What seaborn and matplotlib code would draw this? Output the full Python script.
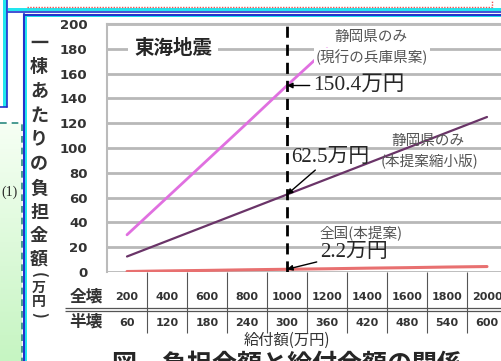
# 給付額と一棟あたり負担金額の関係（東海地震）
import numpy as np
import pandas as pd
import matplotlib
matplotlib.use('Agg')
import matplotlib.pyplot as plt
import seaborn as sns

sns.set_style("white")
plt.rcParams['font.family'] = ['Noto Sans CJK JP', 'DejaVu Sans']

# ---- data ----
full_amounts = [200, 400, 600, 800, 1000, 1200, 1400, 1600, 1800, 2000]   # 全壊 給付額(万円)
half_amounts = [60, 120, 180, 240, 300, 360, 420, 480, 540, 600]          # 半壊 給付額(万円)
hyogo_x = [200, 400, 600, 800, 1000, 1200]
hyogo_vals = [30, 60, 90, 120, 150.4, 180]            # 静岡県のみ(現行の兵庫県案)
shizuoka_vals = [12.5, 25, 37.5, 50, 62.5, 75, 87.5, 100, 112.5, 125]   # 静岡県のみ(本提案縮小版)
national_vals = [0.4, 0.9, 1.3, 1.8, 2.2, 2.6, 3.1, 3.5, 4.0, 4.4]      # 全国(本提案)
y_ticks = [0, 20, 40, 60, 80, 100, 120, 140, 160, 180, 200]
marked_x = 1000

W, H = 501, 361
fig = plt.figure(figsize=(W / 100, H / 100), dpi=100)

# background / page decoration in pixel coords
bg = fig.add_axes([0, 0, 1, 1])
bg.set_xlim(0, W)
bg.set_ylim(H, 0)
bg.axis('off')

# green gradient box with dashed border
grad = np.linspace(0, 1, 100).reshape(-1, 1)
green = matplotlib.colors.LinearSegmentedColormap.from_list('g', ['#f6fff4', '#c6f5c2'])
bg.imshow(grad, cmap=green, extent=(0, 22, 361, 123), aspect='auto', zorder=0)
bg.plot([0, 22, 22], [123, 123, 361], ls=(0, (4, 3)), color='#2a8a80', lw=1.2)
bg.text(10, 192, '(1)', fontsize=10, family=['Liberation Serif'], ha='center', va='center')

# left upper frame
bg.fill_between([3, 7], 0, 107, color='#22e6ee', lw=0)
bg.plot([7.5, 7.5], [0, 107], color='#2233cc', lw=1.2)
bg.plot([0, 7.5], [107, 107], color='#2233cc', lw=1.2)
# top frame
bg.fill_between([8, W], 8, 11, color='#22e6ee', lw=0)
bg.plot([8, W], [11.5, 11.5], color='#2233cc', lw=1.2)
# red dotted box (cut off)
bg.plot([27, 492, 492], [7, 7, 0], ls=(0, (1, 1)), color='#ee5555', lw=1)
# chart frame
bg.plot([24, 24], [14, H], color='#2233cc', lw=1.5)
bg.fill_between([25, 27], 15, H, color='#22e6ee', lw=0)
bg.plot([24, W], [14.5, 14.5], color='#2233cc', lw=1.5)
bg.fill_between([25, W], 15.5, 17, color='#22e6ee', lw=0)

# ---- main chart ----
px_left, px_right, px_top, px_zero = 107, 501, 24, 272
ax = fig.add_axes([px_left / W, (H - px_zero) / H, (px_right - px_left) / W, (px_zero - px_top) / H])
ax.set_xlim(100, 2070)
ax.set_ylim(0, 200)
ax.set_yticks(y_ticks)
ax.set_yticklabels([str(v) for v in y_ticks], fontsize=9.5, fontweight='bold',
                   color='#333333', family='DejaVu Sans')
ax.tick_params(axis='y', length=0, pad=14)
ax.set_xticks([])
ax.yaxis.grid(True, color='#b8b8b8', lw=2)
for s in ['right', 'bottom']:
    ax.spines[s].set_visible(False)
for s in ['left', 'top']:
    ax.spines[s].set_color('#bbbbbb')
    ax.spines[s].set_linewidth(1.5)
ax.patch.set_alpha(0)

df_h = pd.DataFrame({'x': hyogo_x, 'y': hyogo_vals})
df_s = pd.DataFrame({'x': full_amounts, 'y': shizuoka_vals})
df_n = pd.DataFrame({'x': full_amounts, 'y': national_vals})
sns.lineplot(data=df_h, x='x', y='y', ax=ax, color='#e070e0', lw=2, zorder=3)
sns.lineplot(data=df_s, x='x', y='y', ax=ax, color='#6a3468', lw=1.6, zorder=3)
sns.lineplot(data=df_n, x='x', y='y', ax=ax, color='#e87070', lw=2.2, zorder=3)
ax.set_xlabel('')
ax.set_ylabel('')
ax.vlines(marked_x, 0, 200, color='black', ls=(0, (4, 2.5)), lw=2, zorder=4)

lbl = dict(facecolor='white', edgecolor='none', pad=1)
ax.text(430, 180, '東海地震', fontsize=14, fontweight='bold', ha='center', va='center',
        bbox=dict(facecolor='white', edgecolor='none', pad=4), zorder=5)
ax.text(1420, 189.5, '静岡県のみ', fontsize=10.5, color='#555555', ha='center', va='center', bbox=lbl, zorder=5)
ax.text(1425, 173, '(現行の兵庫県案)', fontsize=10.5, color='#555555', ha='center', va='center', bbox=lbl, zorder=5)
ax.text(1705, 106, '静岡県のみ', fontsize=10.5, color='#555555', ha='center', va='center', zorder=5)
ax.text(1710, 89.5, '(本提案縮小版)', fontsize=10.5, color='#555555', ha='center', va='center', zorder=5)
ax.text(1370, 31.5, '全国(本提案)', fontsize=10.5, color='#555555', ha='center', va='center', zorder=5)

serif = ['Liberation Serif', 'Noto Sans CJK JP']
arrow = dict(arrowstyle='-|>', color='black', lw=1, mutation_scale=8, shrinkA=0, shrinkB=0)
ax.annotate('150.4万円', xy=(marked_x, hyogo_vals[4]), xytext=(1130, 150.4),
            fontsize=15.5, family=serif, va='center', ha='left', arrowprops=arrow, zorder=6)
ax.annotate('62.5万円', xy=(marked_x, shizuoka_vals[4]), xytext=(1020, 92.5),
            fontsize=15, family=serif, va='center', ha='left', arrowprops=arrow, zorder=6)
ax.annotate('2.2万円', xy=(marked_x, national_vals[4]), xytext=(1165, 15.5),
            fontsize=15, family=serif, va='center', ha='left', arrowprops=arrow, zorder=6)

# ---- table under the axis ----
px_tbottom = 335
tx = fig.add_axes([px_left / W, (H - px_tbottom) / H, (px_right - px_left) / W, (px_tbottom - px_zero) / H])
tx.set_xlim(100, 2070)
tx.set_ylim(px_tbottom, px_zero)
tx.axis('off')
tx.vlines([a + 100 for a in full_amounts], 272, 333, color='#555555', lw=0.8)
for xf, hf in zip(full_amounts, half_amounts):
    tx.text(xf, 297, str(xf), fontsize=8, fontweight='bold', color='#333333',
            family='DejaVu Sans', ha='center', va='center')
    tx.text(xf, 323, str(hf), fontsize=8, fontweight='bold', color='#333333',
            family='DejaVu Sans', ha='center', va='center')
bg.hlines([308, 311], 65, W, color='#555555', lw=0.9)
bg.text(86, 297, '全壊', fontsize=12, fontweight='bold', color='#333333', ha='center', va='center')
bg.text(86, 322, '半壊', fontsize=12, fontweight='bold', color='#333333', ha='center', va='center')
bg.text(287, 340, '給付額(万円)', fontsize=11, color='#333333', ha='center', va='center')

# vertical y label (upright characters, brackets turned for vertical writing)
ylabel_chars = list('一棟あたりの負担金額(万円)')
ylabel_pos = [43, 67, 91, 115, 139, 163, 188, 212, 236, 259, 275, 288, 302, 315]
ylabel_size = [13] * 10 + [11, 10, 10, 11]
for ch, yy, fs in zip(ylabel_chars, ylabel_pos, ylabel_size):
    rot = -90 if ch in '()' else 0
    bg.text(39, yy, ch, fontsize=fs, fontweight='bold', rotation=rot,
            color='#333333', ha='center', va='center')

# figure caption (cut off at the bottom)
bg.text(112, 353, '図　負担金額と給付金額の関係', fontsize=18, fontweight='bold',
        ha='left', va='top')

fig.savefig('out.png', dpi=100)
